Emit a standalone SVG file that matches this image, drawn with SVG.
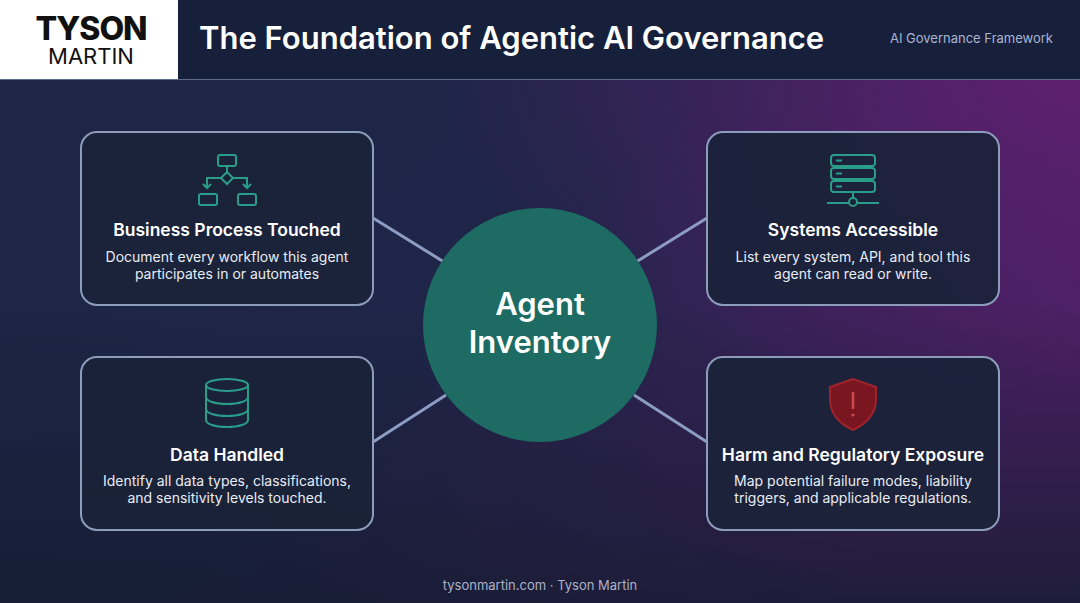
<svg xmlns="http://www.w3.org/2000/svg" width="1080" height="603" viewBox="0 0 1080 603">
<defs>
<linearGradient id="bg" x1="0" y1="0" x2="1" y2="0.6">
<stop offset="0" stop-color="#1c2646"/>
<stop offset="0.55" stop-color="#1f2548"/>
<stop offset="1" stop-color="#4a1f62"/>
</linearGradient>
<radialGradient id="glow" cx="1" cy="0.1" r="0.6">
<stop offset="0" stop-color="#6a1f78" stop-opacity="0.8"/>
<stop offset="1" stop-color="#6a1f78" stop-opacity="0"/>
</radialGradient>
<linearGradient id="bot" x1="0" y1="0" x2="0" y2="1">
<stop offset="0.5" stop-color="#141c30" stop-opacity="0"/>
<stop offset="1" stop-color="#141c30" stop-opacity="0.8"/>
</linearGradient>
<style>
.card{fill:#1a2338;fill-opacity:0.92;stroke:#8d9cbb;stroke-width:2}
.h{font-family:Inter,"Liberation Sans",sans-serif;font-weight:600;font-size:17.5px;fill:#fff;text-anchor:middle}
.d{font-family:Inter,"Liberation Sans",sans-serif;font-size:14px;fill:#e8ecf4;text-anchor:middle}
.ic{fill:none;stroke:#2a9d8a;stroke-width:2}
.con{stroke:#8d9cc2;stroke-width:3}
</style>
</defs>
<rect width="1080" height="603" fill="url(#bg)"/>
<rect width="1080" height="603" fill="url(#glow)"/>
<rect width="1080" height="603" fill="url(#bot)"/>
<g id="header">
<rect x="0" y="0" width="1080" height="79" fill="#16203a"/>
<line x1="0" y1="79.5" x2="1080" y2="79.5" stroke="#5d6b8c" stroke-width="1"/>
<rect x="0" y="0" width="178" height="79" fill="#fff"/>
<text x="91" y="40" font-family="Inter,'Liberation Sans',sans-serif" font-weight="800" font-size="32" fill="#111" text-anchor="middle" letter-spacing="-1">TYSON</text>
<text x="91" y="64" font-family="Inter,'Liberation Sans',sans-serif" font-size="22" fill="#111" text-anchor="middle">MARTIN</text>
<text x="199" y="49" font-family="Inter,'Liberation Sans',sans-serif" font-weight="600" font-size="31" fill="#fff">The Foundation of Agentic AI Governance</text>
<text x="1053" y="43" font-family="Inter,'Liberation Sans',sans-serif" font-size="13" fill="#aab4d4" text-anchor="end">AI Governance Framework</text>
</g>
<g id="connectors">
<line class="con" x1="373" y1="218" x2="444" y2="262"/>
<line class="con" x1="636" y1="262" x2="707" y2="218"/>
<line class="con" x1="373" y1="442" x2="446" y2="395"/>
<line class="con" x1="634" y1="395" x2="707" y2="442"/>
</g>
<g id="center">
<circle cx="540" cy="325" r="117" fill="#1d6b63"/>
<text x="540" y="315" font-family="Inter,'Liberation Sans',sans-serif" font-weight="600" font-size="31" fill="#fff" text-anchor="middle">Agent</text>
<text x="540" y="353" font-family="Inter,'Liberation Sans',sans-serif" font-weight="600" font-size="31" fill="#fff" text-anchor="middle">Inventory</text>
</g>
<g id="business">
<rect class="card" x="81" y="132" width="292" height="173" rx="16"/>
<rect class="ic" x="218" y="155" width="18" height="11" rx="2"/>
<path class="ic" d="M227 166v6M227 172l6 6-6 6-6-6z M221 178h-14v9M233 178h14v9 M203 184l4 4 4-4M243 184l4 4 4-4"/>
<rect class="ic" x="199" y="194" width="18" height="11" rx="2"/>
<rect class="ic" x="238" y="194" width="18" height="11" rx="2"/>
<text class="h" x="227" y="236">Business Process Touched</text>
<text class="d" x="227" y="262">Document every workflow this agent</text>
<text class="d" x="227" y="279">participates in or automates</text>
</g>
<g id="systems">
<rect class="card" x="707" y="132" width="292" height="173" rx="16"/>
<rect class="ic" x="831" y="155" width="44" height="11" rx="3"/>
<rect class="ic" x="831" y="168" width="44" height="11" rx="3"/>
<rect class="ic" x="831" y="181" width="44" height="11" rx="3"/>
<path class="ic" d="M836 160.5h6M836 173.5h6M836 186.5h6M853 192v6M827 203h22M857 203h22"/>
<circle class="ic" cx="853" cy="202" r="4"/>
<text class="h" x="853" y="236">Systems Accessible</text>
<text class="d" x="853" y="262">List every system, API, and tool this</text>
<text class="d" x="853" y="279">agent can read or write.</text>
</g>
<g id="data">
<rect class="card" x="81" y="357" width="292" height="173" rx="16"/>
<ellipse class="ic" cx="227" cy="385" rx="21" ry="6"/>
<path class="ic" d="M206 385v35c0 4 9 7 21 7s21-3 21-7v-35M206 397c0 4 9 7 21 7s21-3 21-7M206 409c0 4 9 7 21 7s21-3 21-7"/>
<text class="h" x="227" y="461">Data Handled</text>
<text class="d" x="227" y="486">Identify all data types, classifications,</text>
<text class="d" x="227" y="503">and sensitivity levels touched.</text>
</g>
<g id="harm">
<rect class="card" x="707" y="357" width="292" height="173" rx="16"/>
<path d="M853 379l-23 8v12c0 16 10 25 23 31 13-6 23-15 23-31v-12z" fill="#7a1620" stroke="#a0232c" stroke-width="2"/>
<path d="M853 392v17" stroke="#d04a4a" stroke-width="2.5"/>
<circle cx="853" cy="415" r="1.6" fill="#d04a4a"/>
<text class="h" x="853" y="461">Harm and Regulatory Exposure</text>
<text class="d" x="853" y="486">Map potential failure modes, liability</text>
<text class="d" x="853" y="503">triggers, and applicable regulations.</text>
</g>
<text x="540" y="590" font-family="Inter,'Liberation Sans',sans-serif" font-size="13" fill="#aab2c8" text-anchor="middle">tysonmartin.com · Tyson Martin</text>
</svg>
